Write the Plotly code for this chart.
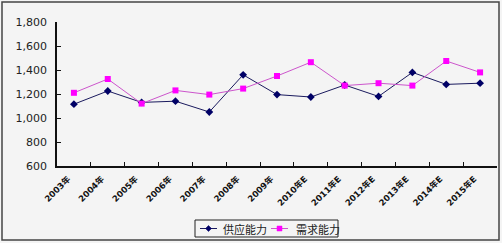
import plotly.graph_objects as go

years = ["2003年", "2004年", "2005年", "2006年", "2007年", "2008年", "2009年",
         "2010年E", "2011年E", "2012年E", "2013年E", "2014年E", "2015年E"]
supply = [1115, 1225, 1130, 1140, 1050, 1360, 1195, 1175, 1275, 1180, 1380, 1280, 1290]
demand = [1210, 1325, 1120, 1230, 1195, 1245, 1350, 1465, 1270, 1290, 1270, 1475, 1380]
series_names = ["供应能力", "需求能力"]
y_ticks = [600, 800, 1000, 1200, 1400, 1600, 1800]

W, H = 502, 243
ML, MR, MT, MB = 57, 5, 22, 77
pw, ph = W - ML - MR, H - MT - MB


def px(p):
    return (p - ML) / pw


def py(p):
    return (H - MB - p) / ph


sup_line, sup_mark = "#1a1a5e", "#000066"
dem_line, dem_mark = "#cc55cc", "#ff00ff"

fig = go.Figure()
fig.add_trace(go.Scatter(
    x=years, y=supply, name=series_names[0], mode="lines+markers",
    line=dict(color=sup_line, width=1),
    marker=dict(symbol="diamond", size=6, color=sup_mark),
))
fig.add_trace(go.Scatter(
    x=years, y=demand, name=series_names[1], mode="lines+markers",
    line=dict(color=dem_line, width=1),
    marker=dict(symbol="square", size=6, color=dem_mark),
))

bg = "#f4f4f4"
shapes = [
    # outer chart border
    dict(type="rect", xref="paper", yref="paper",
         x0=px(2), x1=px(499), y0=py(240), y1=py(2),
         line=dict(color="#444", width=1.5), fillcolor="rgba(0,0,0,0)", layer="below"),
    # legend box
    dict(type="rect", xref="paper", yref="paper",
         x0=px(195), x1=px(338), y0=py(237), y1=py(220),
         line=dict(color="#222", width=1), fillcolor=bg),
    # legend line 1
    dict(type="line", xref="paper", yref="paper",
         x0=px(200), x1=px(217), y0=py(228.5), y1=py(228.5),
         line=dict(color=sup_line, width=1)),
    # legend diamond
    dict(type="path", xref="paper", yref="paper",
         path=f"M {px(208.5)},{py(225.5)} L {px(211.5)},{py(228.5)} L {px(208.5)},{py(231.5)} L {px(205.5)},{py(228.5)} Z",
         line=dict(color=sup_mark, width=0.5), fillcolor=sup_mark),
    # legend line 2
    dict(type="line", xref="paper", yref="paper",
         x0=px(271), x1=px(288), y0=py(228.5), y1=py(228.5),
         line=dict(color=dem_line, width=1)),
    # legend square
    dict(type="rect", xref="paper", yref="paper",
         x0=px(277), x1=px(282), y0=py(231), y1=py(226),
         line=dict(color=dem_mark, width=0.5), fillcolor=dem_mark),
]

annotations = [
    dict(xref="paper", yref="paper", x=px(221), y=py(228.5), xanchor="left", yanchor="middle",
         text=series_names[0], showarrow=False,
         font=dict(size=11, family="Noto Sans CJK SC", color="#222")),
    dict(xref="paper", yref="paper", x=px(294), y=py(228.5), xanchor="left", yanchor="middle",
         text=series_names[1], showarrow=False,
         font=dict(size=11, family="Noto Sans CJK SC", color="#222")),
]

fig.update_layout(
    width=W, height=H,
    margin=dict(l=ML, r=MR, t=MT, b=MB),
    paper_bgcolor=bg, plot_bgcolor=bg,
    font=dict(family="Noto Sans CJK SC, DejaVu Sans, sans-serif", color="#222"),
    showlegend=False,
    xaxis=dict(
        type="category", showline=True, linecolor="#111", linewidth=1.5,
        ticks="inside", ticklen=4, tickcolor="#111", tickson="boundaries",
        tickangle=-45, ticklabelshift=-6, ticklabelstandoff=3,
        tickfont=dict(size=8.5, family="DejaVu Sans, Noto Sans CJK SC", color="#111", weight="bold"),
        showgrid=False, zeroline=False, range=[-0.5, 12.5],
    ),
    yaxis=dict(
        range=[600, 1800], tickvals=y_ticks, tickformat=",",
        showline=True, linecolor="#111", linewidth=1.5,
        ticks="inside", ticklen=4, tickcolor="#111", ticklabelstandoff=6,
        tickfont=dict(size=11, family="DejaVu Sans", color="#222"),
        showgrid=False, zeroline=False,
    ),
    shapes=shapes,
    annotations=annotations,
)

fig.write_html("out.html")
